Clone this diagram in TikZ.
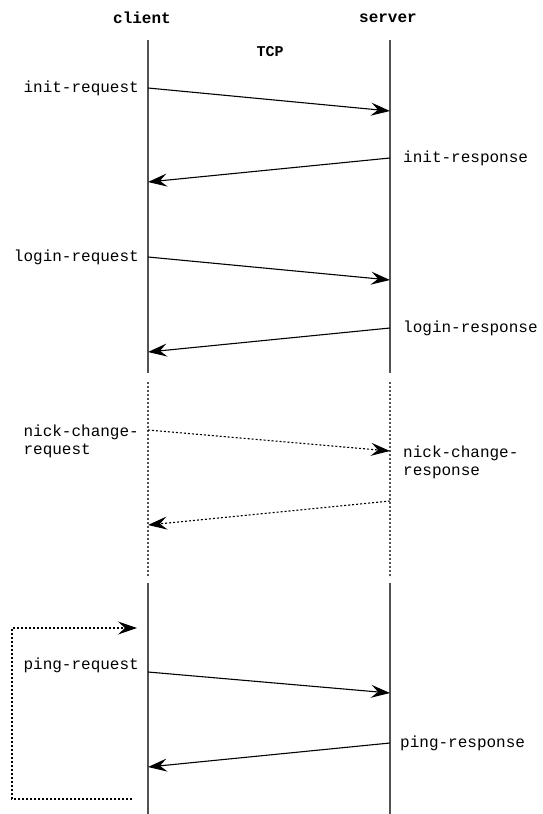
\documentclass[tikz,border=0pt]{standalone}
\usepackage{fontspec}
\setmonofont{Liberation Mono}
\usetikzlibrary{arrows.meta, positioning}

\newcommand{\msgfont}{\ttfamily\fontsize{16}{18.5}\selectfont}
\newcommand{\headfont}{\ttfamily\bfseries\fontsize{16}{18.5}\selectfont}
\newcommand{\tcpfont}{\ttfamily\bfseries\fontsize{15}{17}\selectfont}

\begin{document}
\begin{tikzpicture}[x=1pt, y=-1pt,
    lifeline/.style={draw=black!68, line width=1.5pt},
    gapline/.style={dash pattern=on 2pt off 2pt},
    msg/.style={-{Stealth[length=19pt, width=13pt, inset=7pt]}, line width=1.1pt},
    dotmsg/.style={msg, dash pattern=on 2pt off 2pt},
    lbl/.style={font=\msgfont, inner sep=0pt},
    head/.style={font=\headfont, inner sep=0pt}]
    \useasboundingbox (0,0) rectangle (543,814);
    % headers
    \node[head] (client) at (142,18) {client};
    \node[head] (server) at (388,18) {server};
    \node[head, font=\tcpfont] (tcp) at (270,52) {TCP};
    % lifelines
    \foreach \x in {148,390} {
        \draw[lifeline] (\x,40) -- (\x,373);
        \draw[lifeline, gapline] (\x,382) -- (\x,576);
        \draw[lifeline] (\x,583) -- (\x,814);
    }
    % message end points
    \coordinate (c1) at (148,88);  \coordinate (s1) at (390,111);
    \coordinate (s2) at (390,158); \coordinate (c2) at (148,182);
    \coordinate (c3) at (148,257); \coordinate (s3) at (390,280);
    \coordinate (s4) at (390,328); \coordinate (c4) at (148,352);
    \coordinate (c5) at (148,430); \coordinate (s5) at (390,451);
    \coordinate (s6) at (390,501); \coordinate (c6) at (148,525);
    \coordinate (c7) at (148,672); \coordinate (s7) at (390,693);
    \coordinate (s8) at (390,743); \coordinate (c8) at (148,767);
    \coordinate (loopa) at (132,799); \coordinate (loopb) at (137,628);
    % messages
    \draw[msg] (c1) -- (s1);
    \draw[msg] (s2) -- (c2);
    \draw[msg] (c3) -- (s3);
    \draw[msg] (s4) -- (c4);
    \draw[dotmsg] (c5) -- (s5);
    \draw[dotmsg] (s6) -- (c6);
    \draw[msg] (c7) -- (s7);
    \draw[msg] (s8) -- (c8);
    \draw[dotmsg] (loopa) -- (12,799) -- (12,628) -- (loopb);
    % labels
    \node[lbl, left=9pt of c1] (initreq) {init-request};
    \node[lbl, right=13pt of s2] (initresp) {init-response};
    \node[lbl, left=9pt of c3] (loginreq) {login-request};
    \node[lbl, right=13pt of s4] (loginresp) {login-response};
    \node[lbl, align=left, below left=-5.5pt and 9pt of c5] (nickreq) {nick-change-\\request};
    \node[lbl, align=left, below right=-5.5pt and 13pt of s5] (nickresp) {nick-change-\\response};
    \node[lbl, left=9pt of c7, yshift=7pt] (pingreq) {ping-request};
    \node[lbl, right=10pt of s8] (pingresp) {ping-response};
\end{tikzpicture}
\end{document}
